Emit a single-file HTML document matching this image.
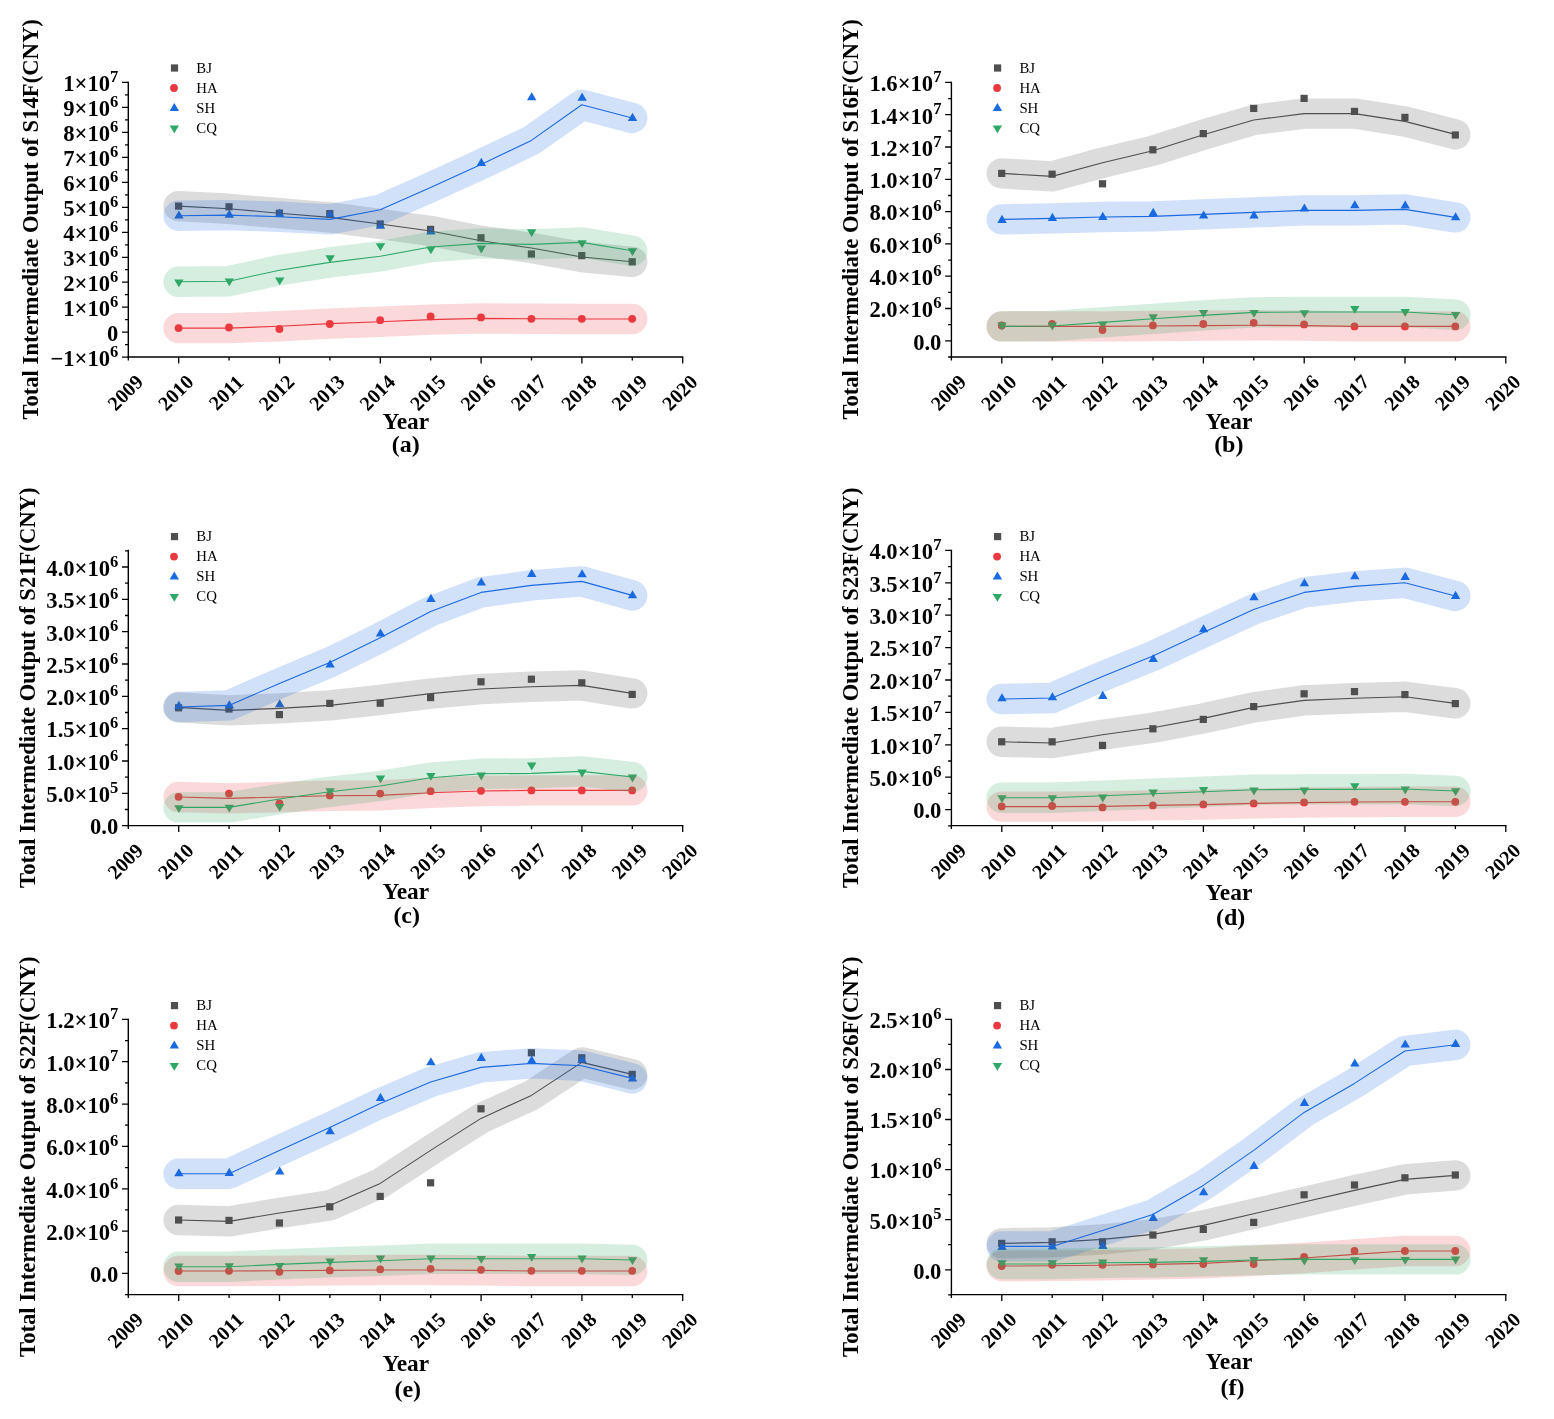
<!DOCTYPE html>
<html lang="en"><head><meta charset="utf-8"><title>Total Intermediate Output</title>
<style>html,body{margin:0;padding:0;background:#fff}svg{display:block}</style></head>
<body>
<svg width="1554" height="1419" viewBox="0 0 1554 1419" font-family="'Liberation Serif', serif">
<rect width="1554" height="1419" fill="#fff"/>
<g id="panel-a">
<g><rect x="175.0" y="202.5" width="7.2" height="7.2" fill="#4f4f4f"/><rect x="225.4" y="203.2" width="7.2" height="7.2" fill="#4f4f4f"/><rect x="275.8" y="209.6" width="7.2" height="7.2" fill="#4f4f4f"/><rect x="326.2" y="210.0" width="7.2" height="7.2" fill="#4f4f4f"/><rect x="376.6" y="220.4" width="7.2" height="7.2" fill="#4f4f4f"/><rect x="427.0" y="225.8" width="7.2" height="7.2" fill="#4f4f4f"/><rect x="477.4" y="234.2" width="7.2" height="7.2" fill="#4f4f4f"/><rect x="527.8" y="250.4" width="7.2" height="7.2" fill="#4f4f4f"/><rect x="578.2" y="252.0" width="7.2" height="7.2" fill="#4f4f4f"/><rect x="628.6" y="258.2" width="7.2" height="7.2" fill="#4f4f4f"/></g>
<g><circle cx="178.6" cy="328.1" r="3.9" fill="#ea3a40"/><circle cx="229.0" cy="327.5" r="3.9" fill="#ea3a40"/><circle cx="279.4" cy="329.0" r="3.9" fill="#ea3a40"/><circle cx="329.8" cy="324.0" r="3.9" fill="#ea3a40"/><circle cx="380.2" cy="320.2" r="3.9" fill="#ea3a40"/><circle cx="430.6" cy="316.4" r="3.9" fill="#ea3a40"/><circle cx="481.0" cy="317.4" r="3.9" fill="#ea3a40"/><circle cx="531.4" cy="318.8" r="3.9" fill="#ea3a40"/><circle cx="581.8" cy="318.8" r="3.9" fill="#ea3a40"/><circle cx="632.2" cy="318.8" r="3.9" fill="#ea3a40"/></g>
<g><polygon points="178.9,210.5 183.6,218.6 174.2,218.6" fill="#1a6ae0"/><polygon points="229.3,209.6 234.0,217.7 224.6,217.7" fill="#1a6ae0"/><polygon points="279.7,208.6 284.4,216.7 275.0,216.7" fill="#1a6ae0"/><polygon points="330.1,209.6 334.8,217.7 325.4,217.7" fill="#1a6ae0"/><polygon points="380.5,220.6 385.2,228.7 375.8,228.7" fill="#1a6ae0"/><polygon points="430.9,226.4 435.6,234.5 426.2,234.5" fill="#1a6ae0"/><polygon points="481.3,157.8 486.0,165.9 476.6,165.9" fill="#1a6ae0"/><polygon points="531.7,92.2 536.4,100.3 527.0,100.3" fill="#1a6ae0"/><polygon points="582.1,92.6 586.8,100.7 577.4,100.7" fill="#1a6ae0"/><polygon points="632.5,112.8 637.2,120.9 627.8,120.9" fill="#1a6ae0"/></g>
<g><polygon points="178.9,287.3 183.6,279.5 174.2,279.5" fill="#2fa866"/><polygon points="229.3,286.3 234.0,278.5 224.6,278.5" fill="#2fa866"/><polygon points="279.7,285.2 284.4,277.4 275.0,277.4" fill="#2fa866"/><polygon points="330.1,263.0 334.8,255.2 325.4,255.2" fill="#2fa866"/><polygon points="380.5,251.0 385.2,243.2 375.8,243.2" fill="#2fa866"/><polygon points="430.9,254.2 435.6,246.4 426.2,246.4" fill="#2fa866"/><polygon points="481.3,253.4 486.0,245.6 476.6,245.6" fill="#2fa866"/><polygon points="531.7,237.0 536.4,229.2 527.0,229.2" fill="#2fa866"/><polygon points="582.1,248.0 586.8,240.2 577.4,240.2" fill="#2fa866"/><polygon points="632.5,256.0 637.2,248.2 627.8,248.2" fill="#2fa866"/></g>
<polyline points="178.6,206.1 229.0,208.8 279.4,213.2 329.8,217.4 380.2,224.0 430.6,231.0 481.0,240.8 531.4,248.0 581.8,257.0 632.2,261.8" fill="none" stroke="#4f4f4f" stroke-opacity="0.2" stroke-width="30.4" stroke-linecap="round" stroke-linejoin="round"/>
<polyline points="178.6,206.1 229.0,208.8 279.4,213.2 329.8,217.4 380.2,224.0 430.6,231.0 481.0,240.8 531.4,248.0 581.8,257.0 632.2,261.8" fill="none" stroke="#4f4f4f" stroke-width="1.1" stroke-linejoin="round"/>
<polyline points="178.6,328.1 229.0,328.1 279.4,326.2 329.8,323.6 380.2,321.7 430.6,319.6 481.0,318.4 531.4,318.8 581.8,319.0 632.2,319.0" fill="none" stroke="#ea3a40" stroke-opacity="0.2" stroke-width="30.4" stroke-linecap="round" stroke-linejoin="round"/>
<polyline points="178.6,328.1 229.0,328.1 279.4,326.2 329.8,323.6 380.2,321.7 430.6,319.6 481.0,318.4 531.4,318.8 581.8,319.0 632.2,319.0" fill="none" stroke="#ea3a40" stroke-width="1.1" stroke-linejoin="round"/>
<polyline points="178.6,215.7 229.0,215.1 279.4,216.7 329.8,219.4 380.2,209.7 430.6,187.4 481.0,164.4 531.4,140.4 581.8,104.8 632.2,118.0" fill="none" stroke="#1a6ae0" stroke-opacity="0.2" stroke-width="30.4" stroke-linecap="round" stroke-linejoin="round"/>
<polyline points="178.6,215.7 229.0,215.1 279.4,216.7 329.8,219.4 380.2,209.7 430.6,187.4 481.0,164.4 531.4,140.4 581.8,104.8 632.2,118.0" fill="none" stroke="#1a6ae0" stroke-width="1.1" stroke-linejoin="round"/>
<polyline points="178.6,281.8 229.0,281.2 279.4,270.2 329.8,262.4 380.2,256.3 430.6,247.0 481.0,243.4 531.4,244.4 581.8,242.4 632.2,250.8" fill="none" stroke="#2fa866" stroke-opacity="0.2" stroke-width="30.4" stroke-linecap="round" stroke-linejoin="round"/>
<polyline points="178.6,281.8 229.0,281.2 279.4,270.2 329.8,262.4 380.2,256.3 430.6,247.0 481.0,243.4 531.4,244.4 581.8,242.4 632.2,250.8" fill="none" stroke="#2fa866" stroke-width="1.1" stroke-linejoin="round"/>
<g stroke="#000" stroke-width="1.4" fill="none">
<path d="M128.3,81.7 V357.7"/>
<path d="M127.6,357.0 H683.4"/>
</g>
<path d="M122.0,82.4 H128.3 M122.0,107.4 H128.3 M122.0,132.4 H128.3 M122.0,157.3 H128.3 M122.0,182.3 H128.3 M122.0,207.3 H128.3 M122.0,232.3 H128.3 M122.0,257.3 H128.3 M122.0,282.2 H128.3 M122.0,307.2 H128.3 M122.0,332.2 H128.3 M122.0,357.2 H128.3 M125.0,94.9 H128.3 M125.0,119.9 H128.3 M125.0,144.8 H128.3 M125.0,169.8 H128.3 M125.0,194.8 H128.3 M125.0,219.8 H128.3 M125.0,244.8 H128.3 M125.0,269.7 H128.3 M125.0,294.7 H128.3 M125.0,319.7 H128.3 M125.0,344.7 H128.3 M128.3,357.0 V360.5 M178.7,357.0 V363.5 M229.1,357.0 V360.5 M279.5,357.0 V363.5 M329.9,357.0 V360.5 M380.3,357.0 V363.5 M430.7,357.0 V360.5 M481.1,357.0 V363.5 M531.5,357.0 V360.5 M581.9,357.0 V363.5 M632.3,357.0 V360.5 M682.7,357.0 V363.5" stroke="#000" stroke-width="1.3" fill="none"/>
<g font-weight="bold" font-size="22.6" text-anchor="end">
<text x="118.3" y="91.2">1×10<tspan dy="-9.1" font-size="16.5">7</tspan></text>
<text x="118.3" y="116.2">9×10<tspan dy="-9.1" font-size="16.5">6</tspan></text>
<text x="118.3" y="141.2">8×10<tspan dy="-9.1" font-size="16.5">6</tspan></text>
<text x="118.3" y="166.1">7×10<tspan dy="-9.1" font-size="16.5">6</tspan></text>
<text x="118.3" y="191.1">6×10<tspan dy="-9.1" font-size="16.5">6</tspan></text>
<text x="118.3" y="216.1">5×10<tspan dy="-9.1" font-size="16.5">6</tspan></text>
<text x="118.3" y="241.1">4×10<tspan dy="-9.1" font-size="16.5">6</tspan></text>
<text x="118.3" y="266.1">3×10<tspan dy="-9.1" font-size="16.5">6</tspan></text>
<text x="118.3" y="291.0">2×10<tspan dy="-9.1" font-size="16.5">6</tspan></text>
<text x="118.3" y="316.0">1×10<tspan dy="-9.1" font-size="16.5">6</tspan></text>
<text x="118.3" y="341.0">0</text>
<text x="118.3" y="366.0">−1×10<tspan dy="-9.1" font-size="16.5">6</tspan></text>
</g>
<g font-weight="bold" font-size="20.2" text-anchor="middle">
<text transform="translate(125.3,392.6) rotate(-45)" y="6.8">2009</text>
<text transform="translate(175.7,392.6) rotate(-45)" y="6.8">2010</text>
<text transform="translate(226.1,392.6) rotate(-45)" y="6.8">2011</text>
<text transform="translate(276.5,392.6) rotate(-45)" y="6.8">2012</text>
<text transform="translate(326.9,392.6) rotate(-45)" y="6.8">2013</text>
<text transform="translate(377.3,392.6) rotate(-45)" y="6.8">2014</text>
<text transform="translate(427.7,392.6) rotate(-45)" y="6.8">2015</text>
<text transform="translate(478.1,392.6) rotate(-45)" y="6.8">2016</text>
<text transform="translate(528.5,392.6) rotate(-45)" y="6.8">2017</text>
<text transform="translate(578.9,392.6) rotate(-45)" y="6.8">2018</text>
<text transform="translate(629.3,392.6) rotate(-45)" y="6.8">2019</text>
<text transform="translate(679.7,392.6) rotate(-45)" y="6.8">2020</text>
</g>
<text x="405.8" y="428.6" font-weight="bold" font-size="23.4" text-anchor="middle">Year</text>
<text x="405.7" y="452.3" font-weight="bold" font-size="24" text-anchor="middle">(a)</text>
<text transform="translate(38.0,219.4) rotate(-90)" font-weight="bold" font-size="22.65" text-anchor="middle">Total Intermediate Output of S14F(CNY)</text>
<g font-size="14.8">
<rect x="170.9" y="64.4" width="7.2" height="7.2" fill="#4f4f4f"/>
<text x="196.3" y="72.7">BJ</text>
<circle cx="174.0" cy="88.0" r="3.9" fill="#ea3a40"/>
<text x="196.3" y="92.7">HA</text>
<polygon points="174.3,102.9 179.0,111.0 169.6,111.0" fill="#1a6ae0"/>
<text x="196.3" y="112.7">SH</text>
<polygon points="174.3,133.2 179.0,125.4 169.6,125.4" fill="#2fa866"/>
<text x="196.3" y="132.7">CQ</text>
</g>
</g>
<g id="panel-b">
<g><rect x="998.1" y="169.8" width="7.2" height="7.2" fill="#4f4f4f"/><rect x="1048.5" y="170.6" width="7.2" height="7.2" fill="#4f4f4f"/><rect x="1098.9" y="180.2" width="7.2" height="7.2" fill="#4f4f4f"/><rect x="1149.3" y="146.2" width="7.2" height="7.2" fill="#4f4f4f"/><rect x="1199.7" y="130.0" width="7.2" height="7.2" fill="#4f4f4f"/><rect x="1250.1" y="104.8" width="7.2" height="7.2" fill="#4f4f4f"/><rect x="1300.5" y="94.8" width="7.2" height="7.2" fill="#4f4f4f"/><rect x="1350.9" y="107.8" width="7.2" height="7.2" fill="#4f4f4f"/><rect x="1401.3" y="113.8" width="7.2" height="7.2" fill="#4f4f4f"/><rect x="1451.7" y="131.4" width="7.2" height="7.2" fill="#4f4f4f"/></g>
<g><circle cx="1001.7" cy="325.4" r="3.9" fill="#ea3a40"/><circle cx="1052.1" cy="323.8" r="3.9" fill="#ea3a40"/><circle cx="1102.5" cy="330.0" r="3.9" fill="#ea3a40"/><circle cx="1152.9" cy="325.4" r="3.9" fill="#ea3a40"/><circle cx="1203.3" cy="324.0" r="3.9" fill="#ea3a40"/><circle cx="1253.7" cy="322.8" r="3.9" fill="#ea3a40"/><circle cx="1304.1" cy="324.4" r="3.9" fill="#ea3a40"/><circle cx="1354.5" cy="326.4" r="3.9" fill="#ea3a40"/><circle cx="1404.9" cy="326.4" r="3.9" fill="#ea3a40"/><circle cx="1455.3" cy="326.4" r="3.9" fill="#ea3a40"/></g>
<g><polygon points="1002.0,214.8 1006.7,222.9 997.3,222.9" fill="#1a6ae0"/><polygon points="1052.4,212.8 1057.1,220.9 1047.7,220.9" fill="#1a6ae0"/><polygon points="1102.8,211.8 1107.5,219.9 1098.1,219.9" fill="#1a6ae0"/><polygon points="1153.2,207.8 1157.9,215.9 1148.5,215.9" fill="#1a6ae0"/><polygon points="1203.6,210.4 1208.3,218.5 1198.9,218.5" fill="#1a6ae0"/><polygon points="1254.0,210.4 1258.7,218.5 1249.3,218.5" fill="#1a6ae0"/><polygon points="1304.4,203.4 1309.1,211.5 1299.7,211.5" fill="#1a6ae0"/><polygon points="1354.8,200.2 1359.5,208.3 1350.1,208.3" fill="#1a6ae0"/><polygon points="1405.2,200.4 1409.9,208.5 1400.5,208.5" fill="#1a6ae0"/><polygon points="1455.6,212.2 1460.3,220.3 1450.9,220.3" fill="#1a6ae0"/></g>
<g><polygon points="1002.0,330.4 1006.7,322.6 997.3,322.6" fill="#2fa866"/><polygon points="1052.4,330.4 1057.1,322.6 1047.7,322.6" fill="#2fa866"/><polygon points="1102.8,329.4 1107.5,321.6 1098.1,321.6" fill="#2fa866"/><polygon points="1153.2,322.0 1157.9,314.2 1148.5,314.2" fill="#2fa866"/><polygon points="1203.6,317.8 1208.3,310.0 1198.9,310.0" fill="#2fa866"/><polygon points="1254.0,317.8 1258.7,310.0 1249.3,310.0" fill="#2fa866"/><polygon points="1304.4,318.0 1309.1,310.2 1299.7,310.2" fill="#2fa866"/><polygon points="1354.8,313.8 1359.5,306.0 1350.1,306.0" fill="#2fa866"/><polygon points="1405.2,316.8 1409.9,309.0 1400.5,309.0" fill="#2fa866"/><polygon points="1455.6,319.8 1460.3,312.0 1450.9,312.0" fill="#2fa866"/></g>
<polyline points="1001.7,173.4 1052.1,176.4 1102.5,162.8 1152.9,150.8 1203.3,134.8 1253.7,120.0 1304.1,113.6 1354.5,113.6 1404.9,121.4 1455.3,134.4" fill="none" stroke="#4f4f4f" stroke-opacity="0.2" stroke-width="30.4" stroke-linecap="round" stroke-linejoin="round"/>
<polyline points="1001.7,173.4 1052.1,176.4 1102.5,162.8 1152.9,150.8 1203.3,134.8 1253.7,120.0 1304.1,113.6 1354.5,113.6 1404.9,121.4 1455.3,134.4" fill="none" stroke="#4f4f4f" stroke-width="1.1" stroke-linejoin="round"/>
<polyline points="1001.7,326.4 1052.1,326.4 1102.5,326.4 1152.9,326.0 1203.3,325.6 1253.7,325.2 1304.1,325.6 1354.5,326.4 1404.9,326.4 1455.3,326.4" fill="none" stroke="#ea3a40" stroke-opacity="0.2" stroke-width="30.4" stroke-linecap="round" stroke-linejoin="round"/>
<polyline points="1001.7,326.4 1052.1,326.4 1102.5,326.4 1152.9,326.0 1203.3,325.6 1253.7,325.2 1304.1,325.6 1354.5,326.4 1404.9,326.4 1455.3,326.4" fill="none" stroke="#ea3a40" stroke-width="1.1" stroke-linejoin="round"/>
<polyline points="1001.7,219.4 1052.1,218.4 1102.5,217.0 1152.9,216.4 1203.3,214.4 1253.7,212.4 1304.1,210.4 1354.5,210.4 1404.9,209.4 1455.3,217.4" fill="none" stroke="#1a6ae0" stroke-opacity="0.2" stroke-width="30.4" stroke-linecap="round" stroke-linejoin="round"/>
<polyline points="1001.7,219.4 1052.1,218.4 1102.5,217.0 1152.9,216.4 1203.3,214.4 1253.7,212.4 1304.1,210.4 1354.5,210.4 1404.9,209.4 1455.3,217.4" fill="none" stroke="#1a6ae0" stroke-width="1.1" stroke-linejoin="round"/>
<polyline points="1001.7,326.4 1052.1,326.0 1102.5,322.4 1152.9,318.8 1203.3,315.4 1253.7,312.4 1304.1,312.0 1354.5,312.0 1404.9,312.0 1455.3,314.8" fill="none" stroke="#2fa866" stroke-opacity="0.2" stroke-width="30.4" stroke-linecap="round" stroke-linejoin="round"/>
<polyline points="1001.7,326.4 1052.1,326.0 1102.5,322.4 1152.9,318.8 1203.3,315.4 1253.7,312.4 1304.1,312.0 1354.5,312.0 1404.9,312.0 1455.3,314.8" fill="none" stroke="#2fa866" stroke-width="1.1" stroke-linejoin="round"/>
<g stroke="#000" stroke-width="1.4" fill="none">
<path d="M951.4,81.7 V357.7"/>
<path d="M950.7,357.0 H1506.5"/>
</g>
<path d="M945.1,82.4 H951.4 M945.1,114.7 H951.4 M945.1,147.0 H951.4 M945.1,179.3 H951.4 M945.1,211.6 H951.4 M945.1,243.9 H951.4 M945.1,276.2 H951.4 M945.1,308.5 H951.4 M945.1,340.8 H951.4 M948.1,98.6 H951.4 M948.1,130.9 H951.4 M948.1,163.2 H951.4 M948.1,195.5 H951.4 M948.1,227.8 H951.4 M948.1,260.1 H951.4 M948.1,292.4 H951.4 M948.1,324.7 H951.4 M948.1,357.0 H951.4 M951.4,357.0 V360.5 M1001.8,357.0 V363.5 M1052.2,357.0 V360.5 M1102.6,357.0 V363.5 M1153.0,357.0 V360.5 M1203.4,357.0 V363.5 M1253.8,357.0 V360.5 M1304.2,357.0 V363.5 M1354.6,357.0 V360.5 M1405.0,357.0 V363.5 M1455.4,357.0 V360.5 M1505.8,357.0 V363.5" stroke="#000" stroke-width="1.3" fill="none"/>
<g font-weight="bold" font-size="22.6" text-anchor="end">
<text x="941.4" y="91.2">1.6×10<tspan dy="-9.1" font-size="16.5">7</tspan></text>
<text x="941.4" y="123.5">1.4×10<tspan dy="-9.1" font-size="16.5">7</tspan></text>
<text x="941.4" y="155.8">1.2×10<tspan dy="-9.1" font-size="16.5">7</tspan></text>
<text x="941.4" y="188.1">1.0×10<tspan dy="-9.1" font-size="16.5">7</tspan></text>
<text x="941.4" y="220.4">8.0×10<tspan dy="-9.1" font-size="16.5">6</tspan></text>
<text x="941.4" y="252.7">6.0×10<tspan dy="-9.1" font-size="16.5">6</tspan></text>
<text x="941.4" y="285.0">4.0×10<tspan dy="-9.1" font-size="16.5">6</tspan></text>
<text x="941.4" y="317.3">2.0×10<tspan dy="-9.1" font-size="16.5">6</tspan></text>
<text x="941.4" y="349.6">0.0</text>
</g>
<g font-weight="bold" font-size="20.2" text-anchor="middle">
<text transform="translate(948.4,392.6) rotate(-45)" y="6.8">2009</text>
<text transform="translate(998.8,392.6) rotate(-45)" y="6.8">2010</text>
<text transform="translate(1049.2,392.6) rotate(-45)" y="6.8">2011</text>
<text transform="translate(1099.6,392.6) rotate(-45)" y="6.8">2012</text>
<text transform="translate(1150.0,392.6) rotate(-45)" y="6.8">2013</text>
<text transform="translate(1200.4,392.6) rotate(-45)" y="6.8">2014</text>
<text transform="translate(1250.8,392.6) rotate(-45)" y="6.8">2015</text>
<text transform="translate(1301.2,392.6) rotate(-45)" y="6.8">2016</text>
<text transform="translate(1351.6,392.6) rotate(-45)" y="6.8">2017</text>
<text transform="translate(1402.0,392.6) rotate(-45)" y="6.8">2018</text>
<text transform="translate(1452.4,392.6) rotate(-45)" y="6.8">2019</text>
<text transform="translate(1502.8,392.6) rotate(-45)" y="6.8">2020</text>
</g>
<text x="1228.9" y="428.6" font-weight="bold" font-size="23.4" text-anchor="middle">Year</text>
<text x="1228.8" y="452.3" font-weight="bold" font-size="24" text-anchor="middle">(b)</text>
<text transform="translate(857.6,219.4) rotate(-90)" font-weight="bold" font-size="22.65" text-anchor="middle">Total Intermediate Output of S16F(CNY)</text>
<g font-size="14.8">
<rect x="994.0" y="64.4" width="7.2" height="7.2" fill="#4f4f4f"/>
<text x="1019.4" y="72.7">BJ</text>
<circle cx="997.1" cy="88.0" r="3.9" fill="#ea3a40"/>
<text x="1019.4" y="92.7">HA</text>
<polygon points="997.4,102.9 1002.1,111.0 992.7,111.0" fill="#1a6ae0"/>
<text x="1019.4" y="112.7">SH</text>
<polygon points="997.4,133.2 1002.1,125.4 992.7,125.4" fill="#2fa866"/>
<text x="1019.4" y="132.7">CQ</text>
</g>
</g>
<g id="panel-c">
<g><rect x="175.0" y="704.2" width="7.2" height="7.2" fill="#4f4f4f"/><rect x="225.4" y="705.4" width="7.2" height="7.2" fill="#4f4f4f"/><rect x="275.8" y="711.0" width="7.2" height="7.2" fill="#4f4f4f"/><rect x="326.2" y="699.8" width="7.2" height="7.2" fill="#4f4f4f"/><rect x="376.6" y="699.6" width="7.2" height="7.2" fill="#4f4f4f"/><rect x="427.0" y="694.0" width="7.2" height="7.2" fill="#4f4f4f"/><rect x="477.4" y="678.2" width="7.2" height="7.2" fill="#4f4f4f"/><rect x="527.8" y="675.6" width="7.2" height="7.2" fill="#4f4f4f"/><rect x="578.2" y="679.2" width="7.2" height="7.2" fill="#4f4f4f"/><rect x="628.6" y="690.8" width="7.2" height="7.2" fill="#4f4f4f"/></g>
<g><circle cx="178.6" cy="796.8" r="3.9" fill="#ea3a40"/><circle cx="229.0" cy="793.6" r="3.9" fill="#ea3a40"/><circle cx="279.4" cy="803.4" r="3.9" fill="#ea3a40"/><circle cx="329.8" cy="795.4" r="3.9" fill="#ea3a40"/><circle cx="380.2" cy="793.6" r="3.9" fill="#ea3a40"/><circle cx="430.6" cy="791.2" r="3.9" fill="#ea3a40"/><circle cx="481.0" cy="790.8" r="3.9" fill="#ea3a40"/><circle cx="531.4" cy="790.4" r="3.9" fill="#ea3a40"/><circle cx="581.8" cy="790.4" r="3.9" fill="#ea3a40"/><circle cx="632.2" cy="790.4" r="3.9" fill="#ea3a40"/></g>
<g><polygon points="178.9,700.8 183.6,708.9 174.2,708.9" fill="#1a6ae0"/><polygon points="229.3,700.2 234.0,708.3 224.6,708.3" fill="#1a6ae0"/><polygon points="279.7,699.2 284.4,707.3 275.0,707.3" fill="#1a6ae0"/><polygon points="330.1,659.4 334.8,667.5 325.4,667.5" fill="#1a6ae0"/><polygon points="380.5,628.4 385.2,636.5 375.8,636.5" fill="#1a6ae0"/><polygon points="430.9,593.8 435.6,601.9 426.2,601.9" fill="#1a6ae0"/><polygon points="481.3,577.4 486.0,585.5 476.6,585.5" fill="#1a6ae0"/><polygon points="531.7,568.8 536.4,576.9 527.0,576.9" fill="#1a6ae0"/><polygon points="582.1,569.2 586.8,577.3 577.4,577.3" fill="#1a6ae0"/><polygon points="632.5,590.2 637.2,598.3 627.8,598.3" fill="#1a6ae0"/></g>
<g><polygon points="178.9,813.0 183.6,805.2 174.2,805.2" fill="#2fa866"/><polygon points="229.3,812.6 234.0,804.8 224.6,804.8" fill="#2fa866"/><polygon points="279.7,811.8 284.4,804.0 275.0,804.0" fill="#2fa866"/><polygon points="330.1,796.0 334.8,788.2 325.4,788.2" fill="#2fa866"/><polygon points="380.5,783.4 385.2,775.6 375.8,775.6" fill="#2fa866"/><polygon points="430.9,780.8 435.6,773.0 426.2,773.0" fill="#2fa866"/><polygon points="481.3,780.4 486.0,772.6 476.6,772.6" fill="#2fa866"/><polygon points="531.7,770.4 536.4,762.6 527.0,762.6" fill="#2fa866"/><polygon points="582.1,777.4 586.8,769.6 577.4,769.6" fill="#2fa866"/><polygon points="632.5,782.4 637.2,774.6 627.8,774.6" fill="#2fa866"/></g>
<polyline points="178.6,707.4 229.0,710.4 279.4,708.4 329.8,705.4 380.2,699.8 430.6,693.6 481.0,689.0 531.4,686.8 581.8,685.4 632.2,693.4" fill="none" stroke="#4f4f4f" stroke-opacity="0.2" stroke-width="30.4" stroke-linecap="round" stroke-linejoin="round"/>
<polyline points="178.6,707.4 229.0,710.4 279.4,708.4 329.8,705.4 380.2,699.8 430.6,693.6 481.0,689.0 531.4,686.8 581.8,685.4 632.2,693.4" fill="none" stroke="#4f4f4f" stroke-width="1.1" stroke-linejoin="round"/>
<polyline points="178.6,797.0 229.0,798.4 279.4,797.0 329.8,795.8 380.2,795.4 430.6,792.8 481.0,791.0 531.4,790.4 581.8,790.4 632.2,790.4" fill="none" stroke="#ea3a40" stroke-opacity="0.2" stroke-width="30.4" stroke-linecap="round" stroke-linejoin="round"/>
<polyline points="178.6,797.0 229.0,798.4 279.4,797.0 329.8,795.8 380.2,795.4 430.6,792.8 481.0,791.0 531.4,790.4 581.8,790.4 632.2,790.4" fill="none" stroke="#ea3a40" stroke-width="1.1" stroke-linejoin="round"/>
<polyline points="178.6,707.0 229.0,705.4 279.4,683.4 329.8,662.4 380.2,637.8 430.6,611.4 481.0,592.4 531.4,585.4 581.8,581.4 632.2,595.4" fill="none" stroke="#1a6ae0" stroke-opacity="0.2" stroke-width="30.4" stroke-linecap="round" stroke-linejoin="round"/>
<polyline points="178.6,707.0 229.0,705.4 279.4,683.4 329.8,662.4 380.2,637.8 430.6,611.4 481.0,592.4 531.4,585.4 581.8,581.4 632.2,595.4" fill="none" stroke="#1a6ae0" stroke-width="1.1" stroke-linejoin="round"/>
<polyline points="178.6,807.4 229.0,807.4 279.4,799.0 329.8,791.8 380.2,786.0 430.6,777.7 481.0,773.8 531.4,773.4 581.8,771.4 632.2,777.0" fill="none" stroke="#2fa866" stroke-opacity="0.2" stroke-width="30.4" stroke-linecap="round" stroke-linejoin="round"/>
<polyline points="178.6,807.4 229.0,807.4 279.4,799.0 329.8,791.8 380.2,786.0 430.6,777.7 481.0,773.8 531.4,773.4 581.8,771.4 632.2,777.0" fill="none" stroke="#2fa866" stroke-width="1.1" stroke-linejoin="round"/>
<g stroke="#000" stroke-width="1.4" fill="none">
<path d="M128.3,549.7 V826.3"/>
<path d="M127.6,825.6 H683.4"/>
</g>
<path d="M122.0,567.0 H128.3 M122.0,599.3 H128.3 M122.0,631.7 H128.3 M122.0,664.0 H128.3 M122.0,696.3 H128.3 M122.0,728.6 H128.3 M122.0,761.0 H128.3 M122.0,793.3 H128.3 M122.0,825.6 H128.3 M125.0,550.8 H128.3 M125.0,583.2 H128.3 M125.0,615.5 H128.3 M125.0,647.8 H128.3 M125.0,680.2 H128.3 M125.0,712.5 H128.3 M125.0,744.8 H128.3 M125.0,777.1 H128.3 M125.0,809.5 H128.3 M128.3,825.6 V829.1 M178.7,825.6 V832.1 M229.1,825.6 V829.1 M279.5,825.6 V832.1 M329.9,825.6 V829.1 M380.3,825.6 V832.1 M430.7,825.6 V829.1 M481.1,825.6 V832.1 M531.5,825.6 V829.1 M581.9,825.6 V832.1 M632.3,825.6 V829.1 M682.7,825.6 V832.1" stroke="#000" stroke-width="1.3" fill="none"/>
<g font-weight="bold" font-size="22.6" text-anchor="end">
<text x="118.3" y="575.8">4.0×10<tspan dy="-9.1" font-size="16.5">6</tspan></text>
<text x="118.3" y="608.1">3.5×10<tspan dy="-9.1" font-size="16.5">6</tspan></text>
<text x="118.3" y="640.5">3.0×10<tspan dy="-9.1" font-size="16.5">6</tspan></text>
<text x="118.3" y="672.8">2.5×10<tspan dy="-9.1" font-size="16.5">6</tspan></text>
<text x="118.3" y="705.1">2.0×10<tspan dy="-9.1" font-size="16.5">6</tspan></text>
<text x="118.3" y="737.4">1.5×10<tspan dy="-9.1" font-size="16.5">6</tspan></text>
<text x="118.3" y="769.8">1.0×10<tspan dy="-9.1" font-size="16.5">6</tspan></text>
<text x="118.3" y="802.1">5.0×10<tspan dy="-9.1" font-size="16.5">5</tspan></text>
<text x="118.3" y="834.4">0.0</text>
</g>
<g font-weight="bold" font-size="20.2" text-anchor="middle">
<text transform="translate(125.3,861.2) rotate(-45)" y="6.8">2009</text>
<text transform="translate(175.7,861.2) rotate(-45)" y="6.8">2010</text>
<text transform="translate(226.1,861.2) rotate(-45)" y="6.8">2011</text>
<text transform="translate(276.5,861.2) rotate(-45)" y="6.8">2012</text>
<text transform="translate(326.9,861.2) rotate(-45)" y="6.8">2013</text>
<text transform="translate(377.3,861.2) rotate(-45)" y="6.8">2014</text>
<text transform="translate(427.7,861.2) rotate(-45)" y="6.8">2015</text>
<text transform="translate(478.1,861.2) rotate(-45)" y="6.8">2016</text>
<text transform="translate(528.5,861.2) rotate(-45)" y="6.8">2017</text>
<text transform="translate(578.9,861.2) rotate(-45)" y="6.8">2018</text>
<text transform="translate(629.3,861.2) rotate(-45)" y="6.8">2019</text>
<text transform="translate(679.7,861.2) rotate(-45)" y="6.8">2020</text>
</g>
<text x="405.8" y="898.9" font-weight="bold" font-size="23.4" text-anchor="middle">Year</text>
<text x="406.7" y="923.1" font-weight="bold" font-size="24" text-anchor="middle">(c)</text>
<text transform="translate(34.5,687.7) rotate(-90)" font-weight="bold" font-size="22.65" text-anchor="middle">Total Intermediate Output of S21F(CNY)</text>
<g font-size="14.8">
<rect x="170.9" y="533.0" width="7.2" height="7.2" fill="#4f4f4f"/>
<text x="196.3" y="541.3">BJ</text>
<circle cx="174.0" cy="556.6" r="3.9" fill="#ea3a40"/>
<text x="196.3" y="561.3">HA</text>
<polygon points="174.3,571.5 179.0,579.6 169.6,579.6" fill="#1a6ae0"/>
<text x="196.3" y="581.3">SH</text>
<polygon points="174.3,601.8 179.0,594.0 169.6,594.0" fill="#2fa866"/>
<text x="196.3" y="601.3">CQ</text>
</g>
</g>
<g id="panel-d">
<g><rect x="998.1" y="738.2" width="7.2" height="7.2" fill="#4f4f4f"/><rect x="1048.5" y="738.2" width="7.2" height="7.2" fill="#4f4f4f"/><rect x="1098.9" y="741.8" width="7.2" height="7.2" fill="#4f4f4f"/><rect x="1149.3" y="725.2" width="7.2" height="7.2" fill="#4f4f4f"/><rect x="1199.7" y="715.8" width="7.2" height="7.2" fill="#4f4f4f"/><rect x="1250.1" y="703.0" width="7.2" height="7.2" fill="#4f4f4f"/><rect x="1300.5" y="690.2" width="7.2" height="7.2" fill="#4f4f4f"/><rect x="1350.9" y="688.0" width="7.2" height="7.2" fill="#4f4f4f"/><rect x="1401.3" y="691.0" width="7.2" height="7.2" fill="#4f4f4f"/><rect x="1451.7" y="700.0" width="7.2" height="7.2" fill="#4f4f4f"/></g>
<g><circle cx="1001.7" cy="806.4" r="3.9" fill="#ea3a40"/><circle cx="1052.1" cy="806.0" r="3.9" fill="#ea3a40"/><circle cx="1102.5" cy="807.4" r="3.9" fill="#ea3a40"/><circle cx="1152.9" cy="805.4" r="3.9" fill="#ea3a40"/><circle cx="1203.3" cy="804.4" r="3.9" fill="#ea3a40"/><circle cx="1253.7" cy="803.4" r="3.9" fill="#ea3a40"/><circle cx="1304.1" cy="802.4" r="3.9" fill="#ea3a40"/><circle cx="1354.5" cy="801.8" r="3.9" fill="#ea3a40"/><circle cx="1404.9" cy="801.8" r="3.9" fill="#ea3a40"/><circle cx="1455.3" cy="801.8" r="3.9" fill="#ea3a40"/></g>
<g><polygon points="1002.0,693.2 1006.7,701.3 997.3,701.3" fill="#1a6ae0"/><polygon points="1052.4,692.2 1057.1,700.3 1047.7,700.3" fill="#1a6ae0"/><polygon points="1102.8,690.8 1107.5,698.9 1098.1,698.9" fill="#1a6ae0"/><polygon points="1153.2,654.0 1157.9,662.1 1148.5,662.1" fill="#1a6ae0"/><polygon points="1203.6,624.2 1208.3,632.3 1198.9,632.3" fill="#1a6ae0"/><polygon points="1254.0,592.2 1258.7,600.3 1249.3,600.3" fill="#1a6ae0"/><polygon points="1304.4,578.2 1309.1,586.3 1299.7,586.3" fill="#1a6ae0"/><polygon points="1354.8,571.2 1359.5,579.3 1350.1,579.3" fill="#1a6ae0"/><polygon points="1405.2,571.8 1409.9,579.9 1400.5,579.9" fill="#1a6ae0"/><polygon points="1455.6,590.8 1460.3,598.9 1450.9,598.9" fill="#1a6ae0"/></g>
<g><polygon points="1002.0,803.0 1006.7,795.2 997.3,795.2" fill="#2fa866"/><polygon points="1052.4,803.0 1057.1,795.2 1047.7,795.2" fill="#2fa866"/><polygon points="1102.8,802.4 1107.5,794.6 1098.1,794.6" fill="#2fa866"/><polygon points="1153.2,797.4 1157.9,789.6 1148.5,789.6" fill="#2fa866"/><polygon points="1203.6,794.8 1208.3,787.0 1198.9,787.0" fill="#2fa866"/><polygon points="1254.0,795.4 1258.7,787.6 1249.3,787.6" fill="#2fa866"/><polygon points="1304.4,795.4 1309.1,787.6 1299.7,787.6" fill="#2fa866"/><polygon points="1354.8,791.0 1359.5,783.2 1350.1,783.2" fill="#2fa866"/><polygon points="1405.2,794.4 1409.9,786.6 1400.5,786.6" fill="#2fa866"/><polygon points="1455.6,796.0 1460.3,788.2 1450.9,788.2" fill="#2fa866"/></g>
<polyline points="1001.7,741.8 1052.1,743.0 1102.5,734.8 1152.9,727.8 1203.3,718.4 1253.7,707.4 1304.1,700.4 1354.5,698.2 1404.9,696.8 1455.3,703.4" fill="none" stroke="#4f4f4f" stroke-opacity="0.2" stroke-width="30.4" stroke-linecap="round" stroke-linejoin="round"/>
<polyline points="1001.7,741.8 1052.1,743.0 1102.5,734.8 1152.9,727.8 1203.3,718.4 1253.7,707.4 1304.1,700.4 1354.5,698.2 1404.9,696.8 1455.3,703.4" fill="none" stroke="#4f4f4f" stroke-width="1.1" stroke-linejoin="round"/>
<polyline points="1001.7,806.6 1052.1,806.6 1102.5,806.4 1152.9,805.4 1203.3,804.6 1253.7,803.4 1304.1,802.6 1354.5,802.0 1404.9,801.8 1455.3,801.8" fill="none" stroke="#ea3a40" stroke-opacity="0.2" stroke-width="30.4" stroke-linecap="round" stroke-linejoin="round"/>
<polyline points="1001.7,806.6 1052.1,806.6 1102.5,806.4 1152.9,805.4 1203.3,804.6 1253.7,803.4 1304.1,802.6 1354.5,802.0 1404.9,801.8 1455.3,801.8" fill="none" stroke="#ea3a40" stroke-width="1.1" stroke-linejoin="round"/>
<polyline points="1001.7,699.0 1052.1,698.0 1102.5,676.4 1152.9,656.0 1203.3,632.4 1253.7,609.4 1304.1,592.4 1354.5,586.4 1404.9,582.8 1455.3,596.0" fill="none" stroke="#1a6ae0" stroke-opacity="0.2" stroke-width="30.4" stroke-linecap="round" stroke-linejoin="round"/>
<polyline points="1001.7,699.0 1052.1,698.0 1102.5,676.4 1152.9,656.0 1203.3,632.4 1253.7,609.4 1304.1,592.4 1354.5,586.4 1404.9,582.8 1455.3,596.0" fill="none" stroke="#1a6ae0" stroke-width="1.1" stroke-linejoin="round"/>
<polyline points="1001.7,797.8 1052.1,797.8 1102.5,795.8 1152.9,793.8 1203.3,791.8 1253.7,789.8 1304.1,789.4 1354.5,789.4 1404.9,789.0 1455.3,791.0" fill="none" stroke="#2fa866" stroke-opacity="0.2" stroke-width="30.4" stroke-linecap="round" stroke-linejoin="round"/>
<polyline points="1001.7,797.8 1052.1,797.8 1102.5,795.8 1152.9,793.8 1203.3,791.8 1253.7,789.8 1304.1,789.4 1354.5,789.4 1404.9,789.0 1455.3,791.0" fill="none" stroke="#2fa866" stroke-width="1.1" stroke-linejoin="round"/>
<g stroke="#000" stroke-width="1.4" fill="none">
<path d="M951.4,549.7 V826.3"/>
<path d="M950.7,825.6 H1506.5"/>
</g>
<path d="M945.1,550.4 H951.4 M945.1,582.8 H951.4 M945.1,615.2 H951.4 M945.1,647.6 H951.4 M945.1,680.0 H951.4 M945.1,712.4 H951.4 M945.1,744.8 H951.4 M945.1,777.2 H951.4 M945.1,809.6 H951.4 M948.1,566.6 H951.4 M948.1,599.0 H951.4 M948.1,631.4 H951.4 M948.1,663.8 H951.4 M948.1,696.2 H951.4 M948.1,728.6 H951.4 M948.1,761.0 H951.4 M948.1,793.4 H951.4 M948.1,825.8 H951.4 M951.4,825.6 V829.1 M1001.8,825.6 V832.1 M1052.2,825.6 V829.1 M1102.6,825.6 V832.1 M1153.0,825.6 V829.1 M1203.4,825.6 V832.1 M1253.8,825.6 V829.1 M1304.2,825.6 V832.1 M1354.6,825.6 V829.1 M1405.0,825.6 V832.1 M1455.4,825.6 V829.1 M1505.8,825.6 V832.1" stroke="#000" stroke-width="1.3" fill="none"/>
<g font-weight="bold" font-size="22.6" text-anchor="end">
<text x="941.4" y="559.2">4.0×10<tspan dy="-9.1" font-size="16.5">7</tspan></text>
<text x="941.4" y="591.6">3.5×10<tspan dy="-9.1" font-size="16.5">7</tspan></text>
<text x="941.4" y="624.0">3.0×10<tspan dy="-9.1" font-size="16.5">7</tspan></text>
<text x="941.4" y="656.4">2.5×10<tspan dy="-9.1" font-size="16.5">7</tspan></text>
<text x="941.4" y="688.8">2.0×10<tspan dy="-9.1" font-size="16.5">7</tspan></text>
<text x="941.4" y="721.2">1.5×10<tspan dy="-9.1" font-size="16.5">7</tspan></text>
<text x="941.4" y="753.6">1.0×10<tspan dy="-9.1" font-size="16.5">7</tspan></text>
<text x="941.4" y="786.0">5.0×10<tspan dy="-9.1" font-size="16.5">6</tspan></text>
<text x="941.4" y="818.4">0.0</text>
</g>
<g font-weight="bold" font-size="20.2" text-anchor="middle">
<text transform="translate(948.4,861.2) rotate(-45)" y="6.8">2009</text>
<text transform="translate(998.8,861.2) rotate(-45)" y="6.8">2010</text>
<text transform="translate(1049.2,861.2) rotate(-45)" y="6.8">2011</text>
<text transform="translate(1099.6,861.2) rotate(-45)" y="6.8">2012</text>
<text transform="translate(1150.0,861.2) rotate(-45)" y="6.8">2013</text>
<text transform="translate(1200.4,861.2) rotate(-45)" y="6.8">2014</text>
<text transform="translate(1250.8,861.2) rotate(-45)" y="6.8">2015</text>
<text transform="translate(1301.2,861.2) rotate(-45)" y="6.8">2016</text>
<text transform="translate(1351.6,861.2) rotate(-45)" y="6.8">2017</text>
<text transform="translate(1402.0,861.2) rotate(-45)" y="6.8">2018</text>
<text transform="translate(1452.4,861.2) rotate(-45)" y="6.8">2019</text>
<text transform="translate(1502.8,861.2) rotate(-45)" y="6.8">2020</text>
</g>
<text x="1228.9" y="899.6" font-weight="bold" font-size="23.4" text-anchor="middle">Year</text>
<text x="1230.6" y="925.2" font-weight="bold" font-size="24" text-anchor="middle">(d)</text>
<text transform="translate(857.6,687.7) rotate(-90)" font-weight="bold" font-size="22.65" text-anchor="middle">Total Intermediate Output of S23F(CNY)</text>
<g font-size="14.8">
<rect x="994.0" y="533.0" width="7.2" height="7.2" fill="#4f4f4f"/>
<text x="1019.4" y="541.3">BJ</text>
<circle cx="997.1" cy="556.6" r="3.9" fill="#ea3a40"/>
<text x="1019.4" y="561.3">HA</text>
<polygon points="997.4,571.5 1002.1,579.6 992.7,579.6" fill="#1a6ae0"/>
<text x="1019.4" y="581.3">SH</text>
<polygon points="997.4,601.8 1002.1,594.0 992.7,594.0" fill="#2fa866"/>
<text x="1019.4" y="601.3">CQ</text>
</g>
</g>
<g id="panel-e">
<g><rect x="175.0" y="1216.4" width="7.2" height="7.2" fill="#4f4f4f"/><rect x="225.4" y="1216.8" width="7.2" height="7.2" fill="#4f4f4f"/><rect x="275.8" y="1219.4" width="7.2" height="7.2" fill="#4f4f4f"/><rect x="326.2" y="1203.2" width="7.2" height="7.2" fill="#4f4f4f"/><rect x="376.6" y="1192.8" width="7.2" height="7.2" fill="#4f4f4f"/><rect x="427.0" y="1179.2" width="7.2" height="7.2" fill="#4f4f4f"/><rect x="477.4" y="1105.2" width="7.2" height="7.2" fill="#4f4f4f"/><rect x="527.8" y="1049.2" width="7.2" height="7.2" fill="#4f4f4f"/><rect x="578.2" y="1054.2" width="7.2" height="7.2" fill="#4f4f4f"/><rect x="628.6" y="1070.8" width="7.2" height="7.2" fill="#4f4f4f"/></g>
<g><circle cx="178.6" cy="1271.0" r="3.9" fill="#ea3a40"/><circle cx="229.0" cy="1270.8" r="3.9" fill="#ea3a40"/><circle cx="279.4" cy="1271.8" r="3.9" fill="#ea3a40"/><circle cx="329.8" cy="1270.4" r="3.9" fill="#ea3a40"/><circle cx="380.2" cy="1269.4" r="3.9" fill="#ea3a40"/><circle cx="430.6" cy="1268.8" r="3.9" fill="#ea3a40"/><circle cx="481.0" cy="1269.8" r="3.9" fill="#ea3a40"/><circle cx="531.4" cy="1270.8" r="3.9" fill="#ea3a40"/><circle cx="581.8" cy="1270.8" r="3.9" fill="#ea3a40"/><circle cx="632.2" cy="1270.8" r="3.9" fill="#ea3a40"/></g>
<g><polygon points="178.9,1168.2 183.6,1176.3 174.2,1176.3" fill="#1a6ae0"/><polygon points="229.3,1167.8 234.0,1175.9 224.6,1175.9" fill="#1a6ae0"/><polygon points="279.7,1166.4 284.4,1174.5 275.0,1174.5" fill="#1a6ae0"/><polygon points="330.1,1126.2 334.8,1134.3 325.4,1134.3" fill="#1a6ae0"/><polygon points="380.5,1092.8 385.2,1100.9 375.8,1100.9" fill="#1a6ae0"/><polygon points="430.9,1057.2 435.6,1065.3 426.2,1065.3" fill="#1a6ae0"/><polygon points="481.3,1052.8 486.0,1060.9 476.6,1060.9" fill="#1a6ae0"/><polygon points="531.7,1055.4 536.4,1063.5 527.0,1063.5" fill="#1a6ae0"/><polygon points="582.1,1054.8 586.8,1062.9 577.4,1062.9" fill="#1a6ae0"/><polygon points="632.5,1073.4 637.2,1081.5 627.8,1081.5" fill="#1a6ae0"/></g>
<g><polygon points="178.9,1271.4 183.6,1263.6 174.2,1263.6" fill="#2fa866"/><polygon points="229.3,1271.0 234.0,1263.2 224.6,1263.2" fill="#2fa866"/><polygon points="279.7,1270.8 284.4,1263.0 275.0,1263.0" fill="#2fa866"/><polygon points="330.1,1266.4 334.8,1258.6 325.4,1258.6" fill="#2fa866"/><polygon points="380.5,1263.4 385.2,1255.6 375.8,1255.6" fill="#2fa866"/><polygon points="430.9,1263.4 435.6,1255.6 426.2,1255.6" fill="#2fa866"/><polygon points="481.3,1263.8 486.0,1256.0 476.6,1256.0" fill="#2fa866"/><polygon points="531.7,1261.8 536.4,1254.0 527.0,1254.0" fill="#2fa866"/><polygon points="582.1,1263.4 586.8,1255.6 577.4,1255.6" fill="#2fa866"/><polygon points="632.5,1265.0 637.2,1257.2 627.8,1257.2" fill="#2fa866"/></g>
<polyline points="178.6,1220.0 229.0,1221.4 279.4,1213.0 329.8,1205.4 380.2,1183.4 430.6,1150.4 481.0,1118.4 531.4,1095.4 581.8,1062.4 632.2,1074.4" fill="none" stroke="#4f4f4f" stroke-opacity="0.2" stroke-width="30.4" stroke-linecap="round" stroke-linejoin="round"/>
<polyline points="178.6,1220.0 229.0,1221.4 279.4,1213.0 329.8,1205.4 380.2,1183.4 430.6,1150.4 481.0,1118.4 531.4,1095.4 581.8,1062.4 632.2,1074.4" fill="none" stroke="#4f4f4f" stroke-width="1.1" stroke-linejoin="round"/>
<polyline points="178.6,1271.0 229.0,1271.0 279.4,1270.8 329.8,1270.4 380.2,1270.0 430.6,1270.0 481.0,1270.4 531.4,1271.0 581.8,1271.0 632.2,1271.0" fill="none" stroke="#ea3a40" stroke-opacity="0.2" stroke-width="30.4" stroke-linecap="round" stroke-linejoin="round"/>
<polyline points="178.6,1271.0 229.0,1271.0 279.4,1270.8 329.8,1270.4 380.2,1270.0 430.6,1270.0 481.0,1270.4 531.4,1271.0 581.8,1271.0 632.2,1271.0" fill="none" stroke="#ea3a40" stroke-width="1.1" stroke-linejoin="round"/>
<polyline points="178.6,1173.8 229.0,1173.8 279.4,1150.4 329.8,1127.4 380.2,1103.4 430.6,1082.0 481.0,1067.4 531.4,1063.4 581.8,1065.8 632.2,1078.4" fill="none" stroke="#1a6ae0" stroke-opacity="0.2" stroke-width="30.4" stroke-linecap="round" stroke-linejoin="round"/>
<polyline points="178.6,1173.8 229.0,1173.8 279.4,1150.4 329.8,1127.4 380.2,1103.4 430.6,1082.0 481.0,1067.4 531.4,1063.4 581.8,1065.8 632.2,1078.4" fill="none" stroke="#1a6ae0" stroke-width="1.1" stroke-linejoin="round"/>
<polyline points="178.6,1266.8 229.0,1266.8 279.4,1264.4 329.8,1262.4 380.2,1260.8 430.6,1258.8 481.0,1258.8 531.4,1258.8 581.8,1258.8 632.2,1260.0" fill="none" stroke="#2fa866" stroke-opacity="0.2" stroke-width="30.4" stroke-linecap="round" stroke-linejoin="round"/>
<polyline points="178.6,1266.8 229.0,1266.8 279.4,1264.4 329.8,1262.4 380.2,1260.8 430.6,1258.8 481.0,1258.8 531.4,1258.8 581.8,1258.8 632.2,1260.0" fill="none" stroke="#2fa866" stroke-width="1.1" stroke-linejoin="round"/>
<g stroke="#000" stroke-width="1.4" fill="none">
<path d="M128.3,1018.7 V1295.3"/>
<path d="M127.6,1294.6 H683.4"/>
</g>
<path d="M122.0,1019.4 H128.3 M122.0,1061.7 H128.3 M122.0,1104.1 H128.3 M122.0,1146.4 H128.3 M122.0,1188.8 H128.3 M122.0,1231.1 H128.3 M122.0,1273.4 H128.3 M125.0,1040.6 H128.3 M125.0,1082.9 H128.3 M125.0,1125.2 H128.3 M125.0,1167.6 H128.3 M125.0,1209.9 H128.3 M125.0,1252.3 H128.3 M125.0,1294.6 H128.3 M128.3,1294.6 V1298.1 M178.7,1294.6 V1301.1 M229.1,1294.6 V1298.1 M279.5,1294.6 V1301.1 M329.9,1294.6 V1298.1 M380.3,1294.6 V1301.1 M430.7,1294.6 V1298.1 M481.1,1294.6 V1301.1 M531.5,1294.6 V1298.1 M581.9,1294.6 V1301.1 M632.3,1294.6 V1298.1 M682.7,1294.6 V1301.1" stroke="#000" stroke-width="1.3" fill="none"/>
<g font-weight="bold" font-size="22.6" text-anchor="end">
<text x="118.3" y="1028.2">1.2×10<tspan dy="-9.1" font-size="16.5">7</tspan></text>
<text x="118.3" y="1070.5">1.0×10<tspan dy="-9.1" font-size="16.5">7</tspan></text>
<text x="118.3" y="1112.9">8.0×10<tspan dy="-9.1" font-size="16.5">6</tspan></text>
<text x="118.3" y="1155.2">6.0×10<tspan dy="-9.1" font-size="16.5">6</tspan></text>
<text x="118.3" y="1197.6">4.0×10<tspan dy="-9.1" font-size="16.5">6</tspan></text>
<text x="118.3" y="1239.9">2.0×10<tspan dy="-9.1" font-size="16.5">6</tspan></text>
<text x="118.3" y="1282.2">0.0</text>
</g>
<g font-weight="bold" font-size="20.2" text-anchor="middle">
<text transform="translate(125.3,1330.2) rotate(-45)" y="6.8">2009</text>
<text transform="translate(175.7,1330.2) rotate(-45)" y="6.8">2010</text>
<text transform="translate(226.1,1330.2) rotate(-45)" y="6.8">2011</text>
<text transform="translate(276.5,1330.2) rotate(-45)" y="6.8">2012</text>
<text transform="translate(326.9,1330.2) rotate(-45)" y="6.8">2013</text>
<text transform="translate(377.3,1330.2) rotate(-45)" y="6.8">2014</text>
<text transform="translate(427.7,1330.2) rotate(-45)" y="6.8">2015</text>
<text transform="translate(478.1,1330.2) rotate(-45)" y="6.8">2016</text>
<text transform="translate(528.5,1330.2) rotate(-45)" y="6.8">2017</text>
<text transform="translate(578.9,1330.2) rotate(-45)" y="6.8">2018</text>
<text transform="translate(629.3,1330.2) rotate(-45)" y="6.8">2019</text>
<text transform="translate(679.7,1330.2) rotate(-45)" y="6.8">2020</text>
</g>
<text x="405.8" y="1371.3" font-weight="bold" font-size="23.4" text-anchor="middle">Year</text>
<text x="407.8" y="1397.3" font-weight="bold" font-size="24" text-anchor="middle">(e)</text>
<text transform="translate(34.5,1156.7) rotate(-90)" font-weight="bold" font-size="22.65" text-anchor="middle">Total Intermediate Output of S22F(CNY)</text>
<g font-size="14.8">
<rect x="170.9" y="1002.0" width="7.2" height="7.2" fill="#4f4f4f"/>
<text x="196.3" y="1010.3">BJ</text>
<circle cx="174.0" cy="1025.6" r="3.9" fill="#ea3a40"/>
<text x="196.3" y="1030.3">HA</text>
<polygon points="174.3,1040.5 179.0,1048.6 169.6,1048.6" fill="#1a6ae0"/>
<text x="196.3" y="1050.3">SH</text>
<polygon points="174.3,1070.8 179.0,1063.0 169.6,1063.0" fill="#2fa866"/>
<text x="196.3" y="1070.3">CQ</text>
</g>
</g>
<g id="panel-f">
<g><rect x="998.1" y="1239.8" width="7.2" height="7.2" fill="#4f4f4f"/><rect x="1048.5" y="1238.2" width="7.2" height="7.2" fill="#4f4f4f"/><rect x="1098.9" y="1238.2" width="7.2" height="7.2" fill="#4f4f4f"/><rect x="1149.3" y="1231.4" width="7.2" height="7.2" fill="#4f4f4f"/><rect x="1199.7" y="1225.8" width="7.2" height="7.2" fill="#4f4f4f"/><rect x="1250.1" y="1218.8" width="7.2" height="7.2" fill="#4f4f4f"/><rect x="1300.5" y="1191.2" width="7.2" height="7.2" fill="#4f4f4f"/><rect x="1350.9" y="1181.4" width="7.2" height="7.2" fill="#4f4f4f"/><rect x="1401.3" y="1174.2" width="7.2" height="7.2" fill="#4f4f4f"/><rect x="1451.7" y="1171.4" width="7.2" height="7.2" fill="#4f4f4f"/></g>
<g><circle cx="1001.7" cy="1266.0" r="3.9" fill="#ea3a40"/><circle cx="1052.1" cy="1264.8" r="3.9" fill="#ea3a40"/><circle cx="1102.5" cy="1264.8" r="3.9" fill="#ea3a40"/><circle cx="1152.9" cy="1264.4" r="3.9" fill="#ea3a40"/><circle cx="1203.3" cy="1264.0" r="3.9" fill="#ea3a40"/><circle cx="1253.7" cy="1264.0" r="3.9" fill="#ea3a40"/><circle cx="1304.1" cy="1257.0" r="3.9" fill="#ea3a40"/><circle cx="1354.5" cy="1251.0" r="3.9" fill="#ea3a40"/><circle cx="1404.9" cy="1251.0" r="3.9" fill="#ea3a40"/><circle cx="1455.3" cy="1251.0" r="3.9" fill="#ea3a40"/></g>
<g><polygon points="1002.0,1241.8 1006.7,1249.9 997.3,1249.9" fill="#1a6ae0"/><polygon points="1052.4,1241.4 1057.1,1249.5 1047.7,1249.5" fill="#1a6ae0"/><polygon points="1102.8,1240.8 1107.5,1248.9 1098.1,1248.9" fill="#1a6ae0"/><polygon points="1153.2,1212.8 1157.9,1220.9 1148.5,1220.9" fill="#1a6ae0"/><polygon points="1203.6,1187.2 1208.3,1195.3 1198.9,1195.3" fill="#1a6ae0"/><polygon points="1254.0,1160.8 1258.7,1168.9 1249.3,1168.9" fill="#1a6ae0"/><polygon points="1304.4,1097.8 1309.1,1105.9 1299.7,1105.9" fill="#1a6ae0"/><polygon points="1354.8,1058.4 1359.5,1066.5 1350.1,1066.5" fill="#1a6ae0"/><polygon points="1405.2,1039.4 1409.9,1047.5 1400.5,1047.5" fill="#1a6ae0"/><polygon points="1455.6,1038.8 1460.3,1046.9 1450.9,1046.9" fill="#1a6ae0"/></g>
<g><polygon points="1002.0,1268.0 1006.7,1260.2 997.3,1260.2" fill="#2fa866"/><polygon points="1052.4,1268.0 1057.1,1260.2 1047.7,1260.2" fill="#2fa866"/><polygon points="1102.8,1267.4 1107.5,1259.6 1098.1,1259.6" fill="#2fa866"/><polygon points="1153.2,1266.4 1157.9,1258.6 1148.5,1258.6" fill="#2fa866"/><polygon points="1203.6,1265.0 1208.3,1257.2 1198.9,1257.2" fill="#2fa866"/><polygon points="1254.0,1264.8 1258.7,1257.0 1249.3,1257.0" fill="#2fa866"/><polygon points="1304.4,1265.4 1309.1,1257.6 1299.7,1257.6" fill="#2fa866"/><polygon points="1354.8,1265.0 1359.5,1257.2 1350.1,1257.2" fill="#2fa866"/><polygon points="1405.2,1264.8 1409.9,1257.0 1400.5,1257.0" fill="#2fa866"/><polygon points="1455.6,1264.4 1460.3,1256.6 1450.9,1256.6" fill="#2fa866"/></g>
<polyline points="1001.7,1243.4 1052.1,1242.4 1102.5,1239.4 1152.9,1234.4 1203.3,1225.4 1253.7,1213.8 1304.1,1202.0 1354.5,1190.4 1404.9,1179.4 1455.3,1175.4" fill="none" stroke="#4f4f4f" stroke-opacity="0.2" stroke-width="30.4" stroke-linecap="round" stroke-linejoin="round"/>
<polyline points="1001.7,1243.4 1052.1,1242.4 1102.5,1239.4 1152.9,1234.4 1203.3,1225.4 1253.7,1213.8 1304.1,1202.0 1354.5,1190.4 1404.9,1179.4 1455.3,1175.4" fill="none" stroke="#4f4f4f" stroke-width="1.1" stroke-linejoin="round"/>
<polyline points="1001.7,1266.0 1052.1,1265.8 1102.5,1265.2 1152.9,1264.4 1203.3,1263.4 1253.7,1260.8 1304.1,1258.0 1354.5,1254.4 1404.9,1251.0 1455.3,1251.0" fill="none" stroke="#ea3a40" stroke-opacity="0.2" stroke-width="30.4" stroke-linecap="round" stroke-linejoin="round"/>
<polyline points="1001.7,1266.0 1052.1,1265.8 1102.5,1265.2 1152.9,1264.4 1203.3,1263.4 1253.7,1260.8 1304.1,1258.0 1354.5,1254.4 1404.9,1251.0 1455.3,1251.0" fill="none" stroke="#ea3a40" stroke-width="1.1" stroke-linejoin="round"/>
<polyline points="1001.7,1246.4 1052.1,1246.4 1102.5,1230.4 1152.9,1214.4 1203.3,1185.4 1253.7,1150.4 1304.1,1112.4 1354.5,1083.4 1404.9,1051.0 1455.3,1044.8" fill="none" stroke="#1a6ae0" stroke-opacity="0.2" stroke-width="30.4" stroke-linecap="round" stroke-linejoin="round"/>
<polyline points="1001.7,1246.4 1052.1,1246.4 1102.5,1230.4 1152.9,1214.4 1203.3,1185.4 1253.7,1150.4 1304.1,1112.4 1354.5,1083.4 1404.9,1051.0 1455.3,1044.8" fill="none" stroke="#1a6ae0" stroke-width="1.1" stroke-linejoin="round"/>
<polyline points="1001.7,1264.0 1052.1,1264.0 1102.5,1262.8 1152.9,1262.4 1203.3,1261.4 1253.7,1260.0 1304.1,1259.4 1354.5,1259.4 1404.9,1259.4 1455.3,1259.4" fill="none" stroke="#2fa866" stroke-opacity="0.2" stroke-width="30.4" stroke-linecap="round" stroke-linejoin="round"/>
<polyline points="1001.7,1264.0 1052.1,1264.0 1102.5,1262.8 1152.9,1262.4 1203.3,1261.4 1253.7,1260.0 1304.1,1259.4 1354.5,1259.4 1404.9,1259.4 1455.3,1259.4" fill="none" stroke="#2fa866" stroke-width="1.1" stroke-linejoin="round"/>
<g stroke="#000" stroke-width="1.4" fill="none">
<path d="M951.4,1018.7 V1295.3"/>
<path d="M950.7,1294.6 H1506.5"/>
</g>
<path d="M945.1,1019.4 H951.4 M945.1,1069.5 H951.4 M945.1,1119.5 H951.4 M945.1,1169.6 H951.4 M945.1,1219.7 H951.4 M945.1,1269.8 H951.4 M948.1,1044.4 H951.4 M948.1,1094.5 H951.4 M948.1,1144.6 H951.4 M948.1,1194.6 H951.4 M948.1,1244.7 H951.4 M948.1,1294.8 H951.4 M951.4,1294.6 V1298.1 M1001.8,1294.6 V1301.1 M1052.2,1294.6 V1298.1 M1102.6,1294.6 V1301.1 M1153.0,1294.6 V1298.1 M1203.4,1294.6 V1301.1 M1253.8,1294.6 V1298.1 M1304.2,1294.6 V1301.1 M1354.6,1294.6 V1298.1 M1405.0,1294.6 V1301.1 M1455.4,1294.6 V1298.1 M1505.8,1294.6 V1301.1" stroke="#000" stroke-width="1.3" fill="none"/>
<g font-weight="bold" font-size="22.6" text-anchor="end">
<text x="941.4" y="1028.2">2.5×10<tspan dy="-9.1" font-size="16.5">6</tspan></text>
<text x="941.4" y="1078.3">2.0×10<tspan dy="-9.1" font-size="16.5">6</tspan></text>
<text x="941.4" y="1128.3">1.5×10<tspan dy="-9.1" font-size="16.5">6</tspan></text>
<text x="941.4" y="1178.4">1.0×10<tspan dy="-9.1" font-size="16.5">6</tspan></text>
<text x="941.4" y="1228.5">5.0×10<tspan dy="-9.1" font-size="16.5">5</tspan></text>
<text x="941.4" y="1278.5">0.0</text>
</g>
<g font-weight="bold" font-size="20.2" text-anchor="middle">
<text transform="translate(948.4,1330.2) rotate(-45)" y="6.8">2009</text>
<text transform="translate(998.8,1330.2) rotate(-45)" y="6.8">2010</text>
<text transform="translate(1049.2,1330.2) rotate(-45)" y="6.8">2011</text>
<text transform="translate(1099.6,1330.2) rotate(-45)" y="6.8">2012</text>
<text transform="translate(1150.0,1330.2) rotate(-45)" y="6.8">2013</text>
<text transform="translate(1200.4,1330.2) rotate(-45)" y="6.8">2014</text>
<text transform="translate(1250.8,1330.2) rotate(-45)" y="6.8">2015</text>
<text transform="translate(1301.2,1330.2) rotate(-45)" y="6.8">2016</text>
<text transform="translate(1351.6,1330.2) rotate(-45)" y="6.8">2017</text>
<text transform="translate(1402.0,1330.2) rotate(-45)" y="6.8">2018</text>
<text transform="translate(1452.4,1330.2) rotate(-45)" y="6.8">2019</text>
<text transform="translate(1502.8,1330.2) rotate(-45)" y="6.8">2020</text>
</g>
<text x="1228.9" y="1368.8" font-weight="bold" font-size="23.4" text-anchor="middle">Year</text>
<text x="1232.4" y="1394.9" font-weight="bold" font-size="24" text-anchor="middle">(f)</text>
<text transform="translate(857.6,1156.7) rotate(-90)" font-weight="bold" font-size="22.65" text-anchor="middle">Total Intermediate Output of S26F(CNY)</text>
<g font-size="14.8">
<rect x="994.0" y="1002.0" width="7.2" height="7.2" fill="#4f4f4f"/>
<text x="1019.4" y="1010.3">BJ</text>
<circle cx="997.1" cy="1025.6" r="3.9" fill="#ea3a40"/>
<text x="1019.4" y="1030.3">HA</text>
<polygon points="997.4,1040.5 1002.1,1048.6 992.7,1048.6" fill="#1a6ae0"/>
<text x="1019.4" y="1050.3">SH</text>
<polygon points="997.4,1070.8 1002.1,1063.0 992.7,1063.0" fill="#2fa866"/>
<text x="1019.4" y="1070.3">CQ</text>
</g>
</g>
</svg>
</body></html>
